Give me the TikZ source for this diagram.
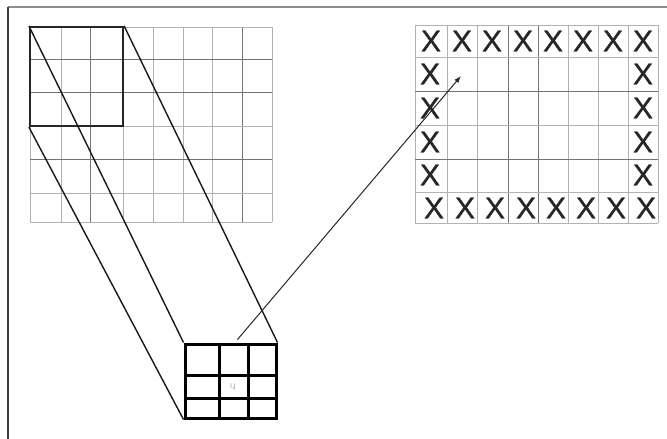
\documentclass[tikz,border=0pt]{standalone}
\usepackage{fontspec}
\setmainfont{Liberation Sans}
\newfontfamily\xfont[FakeBold=0.8]{Liberation Sans}
\usetikzlibrary{arrows.meta}
\begin{document}
\begin{tikzpicture}[x=1pt,y=-1pt,
  gridline/.style={draw=black!30,line width=0.9pt},
  darkline/.style={draw=black!55,line width=0.9pt},
  winbox/.style={draw=black!85,line width=2.2pt,inner sep=0pt,minimum width=93pt,minimum height=99pt},
  kernbox/.style={draw=black,line width=3pt,inner sep=0pt,minimum width=91pt,minimum height=74pt},
  kernline/.style={draw=black,line width=3pt},
  proj/.style={draw=black!90,line width=1.4pt},
  xmark/.style={inner sep=0pt,text=black!85,font=\xfont\fontsize{30}{30}\selectfont},
  lbl/.style={inner sep=0pt,text=black!45,font=\fontsize{7}{7}\selectfont},
  arr/.style={draw=black!85,line width=1pt,-{Latex[length=7pt,width=5pt]}}
]
\useasboundingbox (0,0) rectangle (667,439);
\fill[white] (0,0) rectangle (667,439);
% frame
\draw[draw=black!45,line width=1.6pt] (8,7) -- (667,7);
\draw[draw=black!75,line width=2.4pt] (8,7) -- (8,439);
% left grid
\foreach \x in {30,61,123,153,183,212,272} \draw[gridline] (\x,27) -- (\x,222);
\foreach \x in {90,242} \draw[darkline] (\x,27) -- (\x,222);
\foreach \y in {27,126,193,222} \draw[gridline] (30,\y) -- (272,\y);
\foreach \y in {59,92,159} \draw[darkline] (30,\y) -- (272,\y);
% window
\node[winbox] (win) at (76.5,76.5) {};
% kernel
\node[kernbox] (kern) at (230.5,381) {};
\foreach \x in {219,248} \draw[kernline] (\x,344) -- (\x,418);
\foreach \y in {375,398} \draw[kernline] (185,\y) -- (276,\y);
\node[lbl] (ij) at (233,387) {i,j};
% projection lines
\draw[proj] (win.north west) -- (kern.north west);
\draw[proj] (win.south west) -- (kern.south west);
\draw[proj] (win.north east) -- (kern.north east);
% right grid
\foreach \x in {415,447,477,568,598,628,658} \draw[gridline] (\x,25) -- (\x,223);
\foreach \x in {508,538} \draw[darkline] (\x,25) -- (\x,223);
\foreach \y in {25,57,125,192,223} \draw[gridline] (415,\y) -- (658,\y);
\foreach \y in {91,159} \draw[darkline] (415,\y) -- (658,\y);
% X marks
\foreach \x [count=\i] in {431,462,492,523,553,583,613,643} {
  \node[xmark] (t\i) at (\x,41) {X};
  \node[xmark] (b\i) at (\x+3,208) {X};
}
\foreach \y [count=\i] in {74,108,142,175} {
  \node[xmark] (l\i) at (430,\y) {X};
  \node[xmark] (r\i) at (643,\y) {X};
}
% arrow
\coordinate (tip) at (461,76);
\draw[arr] ([xshift=7pt,yshift=3pt]kern.north) -- (tip);
\end{tikzpicture}
\end{document}
